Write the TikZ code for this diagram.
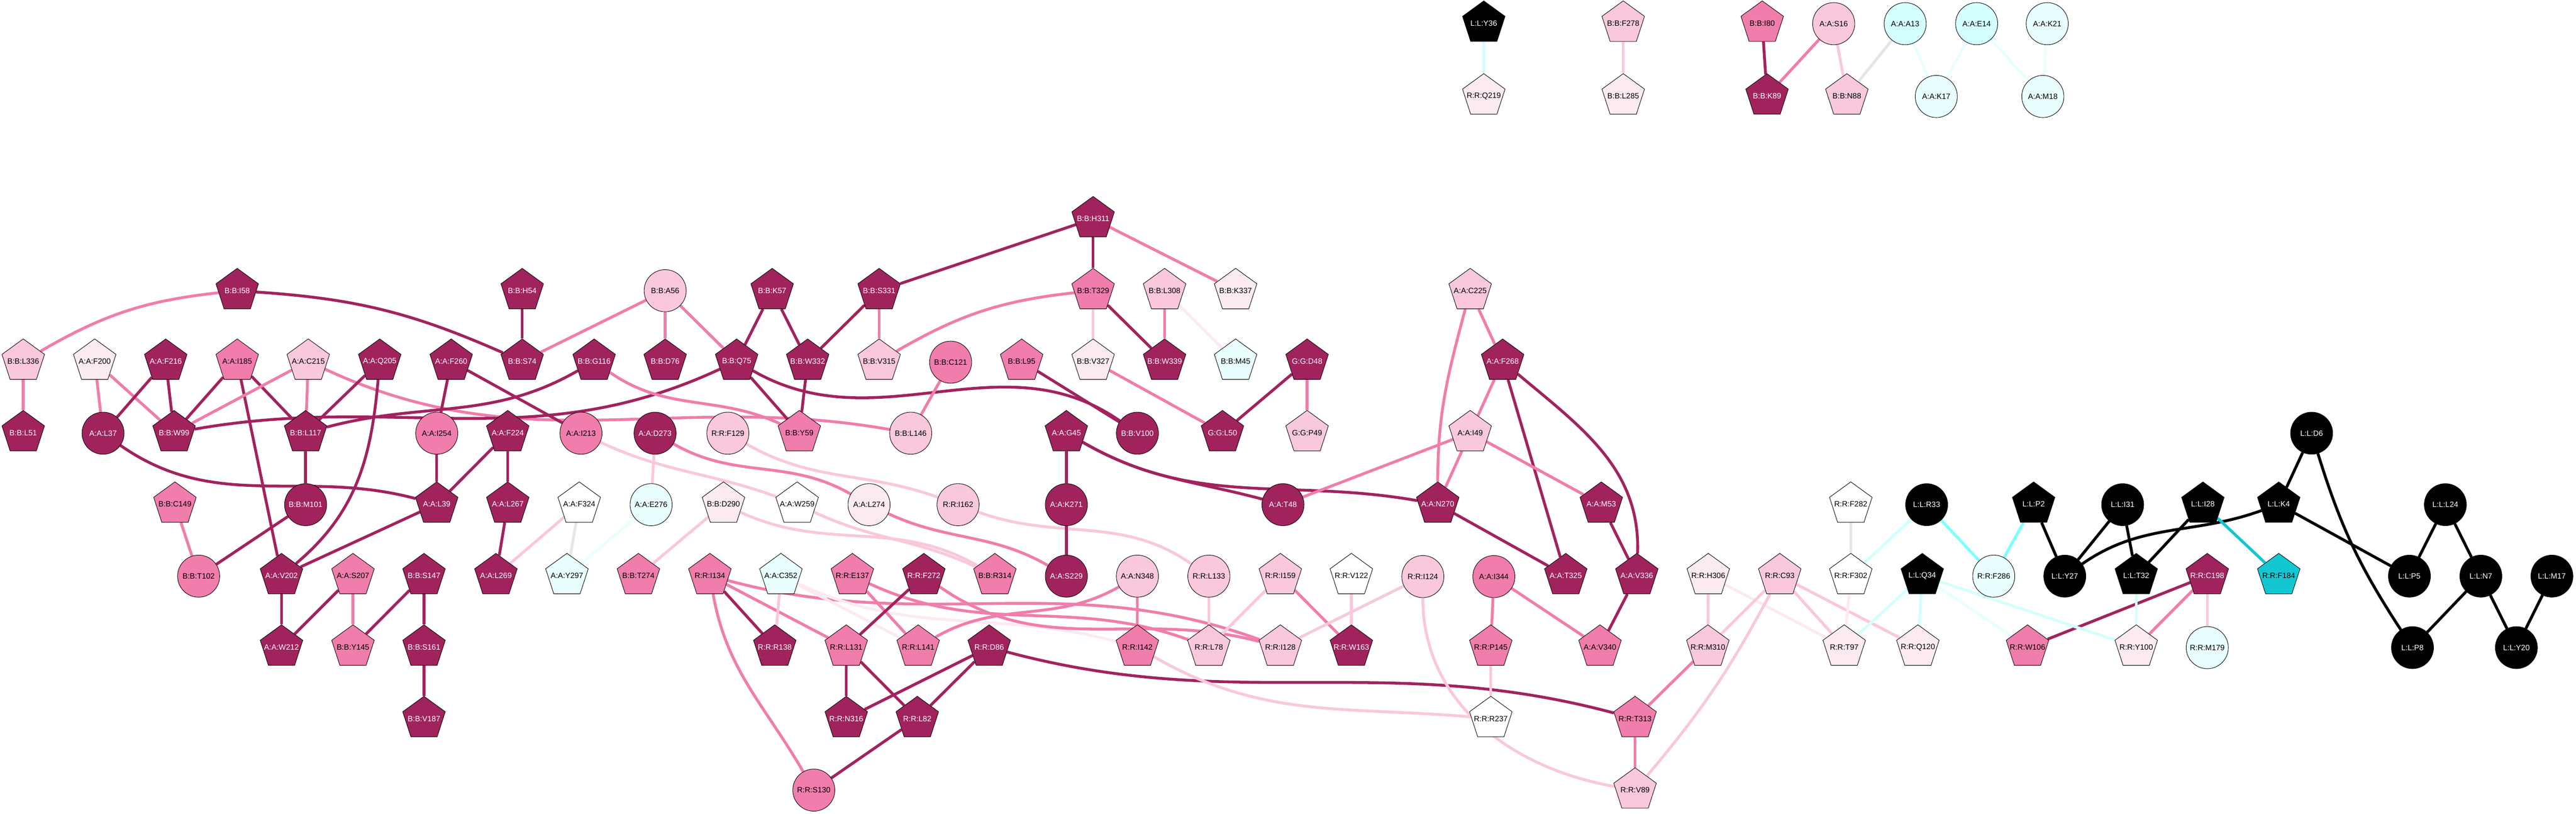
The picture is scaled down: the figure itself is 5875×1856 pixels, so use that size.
\documentclass[tikz,border=0pt]{standalone}
\usepackage{fontspec}
\setmainfont{Liberation Sans}
\usetikzlibrary{shapes.geometric,backgrounds}
\definecolor{cDk}{HTML}{A1235E}
\definecolor{cMd}{HTML}{F07DAB}
\definecolor{cLt}{HTML}{F9C8DD}
\definecolor{cVl}{HTML}{FCEAF2}
\definecolor{cCl}{HTML}{E9FEFE}
\definecolor{cCb}{HTML}{D4FFFF}
\definecolor{cCc}{HTML}{80FFFF}
\definecolor{cCy}{HTML}{12C7D2}
\definecolor{cGr}{HTML}{E6E6E6}
\begin{document}
\begin{tikzpicture}[x=0.01cm,y=-0.01cm,font=\fontsize{5}{5}\selectfont,
  slim/.style={execute at begin node={\hbox to 0pt\bgroup\hss},execute at end node={\hss\egroup}},
  pent/.style={regular polygon,regular polygon sides=5,draw=black,line width=0.3pt,minimum size=1.02cm,inner sep=0pt,slim},
  ball/.style={circle,draw=black,line width=0.3pt,minimum size=0.96cm,inner sep=0pt,slim},
  fDk/.style={fill=cDk,text=white},
  fMd/.style={fill=cMd},
  fLt/.style={fill=cLt},
  fVl/.style={fill=cVl},
  fWh/.style={fill=white},
  fCl/.style={fill=cCl},
  fCb/.style={fill=cCb},
  fCy/.style={fill=cCy},
  fBk/.style={fill=black,text=white},
  link/.style={draw=#1,line width=0.065cm}]
\useasboundingbox (0,0) rectangle (5875,1856);
% top pairs
\node[pent,fBk] (LY36) at (3384,53) {L:L:Y36};
\node[pent,fVl] (RQ219) at (3384,219) {R:R:Q219};
\node[pent,fLt] (BF278) at (3702,53) {B:B:F278};
\node[pent,fVl] (BL285) at (3702,219) {B:B:L285};
\node[pent,fMd] (BI80) at (4019,53) {B:B:I80};
\node[pent,fDk] (BK89) at (4030,219) {B:B:K89};
\node[ball,fLt] (AS16) at (4182,54) {A:A:S16};
\node[pent,fLt] (BN88) at (4212,219) {B:B:N88};
\node[ball,fCb] (AA13) at (4345,54) {A:A:A13};
\node[ball,fCb] (AE14) at (4508,54) {A:A:E14};
\node[ball,fCl] (AK21) at (4669,54) {A:A:K21};
\node[ball,fCl] (AK17) at (4416,220) {A:A:K17};
\node[ball,fCl] (AM18) at (4659,220) {A:A:M18};
% rows 499 and 663
\node[pent,fDk] (BH311) at (2493,499) {B:B:H311};
\node[pent,fDk] (BI58) at (541,663) {B:B:I58};
\node[pent,fDk] (BH54) at (1191,663) {B:B:H54};
\node[ball,fLt] (BA56) at (1517,663) {B:B:A56};
\node[pent,fDk] (BK57) at (1761,663) {B:B:K57};
\node[pent,fDk] (BS331) at (2005,663) {B:B:S331};
\node[pent,fMd] (BT329) at (2493,663) {B:B:T329};
\node[pent,fLt] (BL308) at (2656,663) {B:B:L308};
\node[pent,fVl] (BK337) at (2818,663) {B:B:K337};
\node[pent,fLt] (AC225) at (3353,663) {A:A:C225};
% row 824
\node[pent,fLt] (BL336) at (53,824) {B:B:L336};
\node[pent,fVl] (AF200) at (216,824) {A:A:F200};
\node[pent,fDk] (AF216) at (378,824) {A:A:F216};
\node[pent,fMd] (AI185) at (541,824) {A:A:I185};
\node[pent,fLt] (AC215) at (703,824) {A:A:C215};
\node[pent,fDk] (AQ205) at (866,824) {A:A:Q205};
\node[pent,fDk] (AF260) at (1029,824) {A:A:F260};
\node[pent,fDk] (BS74) at (1191,824) {B:B:S74};
\node[pent,fDk] (BG116) at (1355,824) {B:B:G116};
\node[pent,fDk] (BD76) at (1517,824) {B:B:D76};
\node[pent,fDk] (BQ75) at (1680,824) {B:B:Q75};
\node[pent,fDk] (BW332) at (1842,824) {B:B:W332};
\node[pent,fLt] (BV315) at (2005,824) {B:B:V315};
\node[ball,fMd] (BC121) at (2168,826) {B:B:C121};
\node[pent,fMd] (BL95) at (2330,824) {B:B:L95};
\node[pent,fVl] (BV327) at (2493,824) {B:B:V327};
\node[pent,fDk] (BW339) at (2656,824) {B:B:W339};
\node[pent,fCl] (BM45) at (2818,824) {B:B:M45};
\node[pent,fDk] (GD48) at (2981,824) {G:G:D48};
\node[pent,fDk] (AF268) at (3427,824) {A:A:F268};
% row 987
\node[pent,fDk] (BL51) at (53,987) {B:B:L51};
\node[ball,fDk] (AL37) at (235,988) {A:A:L37};
\node[pent,fDk] (BW99) at (397,987) {B:B:W99};
\node[pent,fDk] (BL117) at (697,987) {B:B:L117};
\node[ball,fMd] (AI254) at (996,988) {A:A:I254};
\node[pent,fDk] (AF224) at (1158,987) {A:A:F224};
\node[ball,fMd] (AI213) at (1325,988) {A:A:I213};
\node[ball,fDk] (AD273) at (1494,988) {A:A:D273};
\node[ball,fLt] (RF129) at (1660,988) {R:R:F129};
\node[pent,fMd] (BY59) at (1823,987) {B:B:Y59};
\node[ball,fLt] (BL146) at (2077,988) {B:B:L146};
\node[pent,fDk] (AG45) at (2432,987) {A:A:G45};
\node[ball,fDk] (BV100) at (2594,988) {B:B:V100};
\node[pent,fDk] (GL50) at (2788,987) {G:G:L50};
\node[pent,fLt] (GP49) at (2981,987) {G:G:P49};
\node[pent,fLt] (AI49) at (3353,987) {A:A:I49};
\node[ball,fBk] (LD6) at (5272,988) {L:L:D6};
% row 1150
\node[pent,fMd] (BC149) at (399,1150) {B:B:C149};
\node[ball,fDk] (BM101) at (697,1151) {B:B:M101};
\node[pent,fDk] (AL39) at (996,1150) {A:A:L39};
\node[pent,fDk] (AL267) at (1158,1150) {A:A:L267};
\node[pent,fWh] (AF324) at (1321,1150) {A:A:F324};
\node[ball,fCl] (AE276) at (1485,1151) {A:A:E276};
\node[pent,fVl] (BD290) at (1650,1150) {B:B:D290};
\node[pent,fWh] (AW259) at (1818,1150) {A:A:W259};
\node[ball,fVl] (AL274) at (1982,1151) {A:A:L274};
\node[ball,fLt] (RI162) at (2185,1151) {R:R:I162};
\node[ball,fDk] (AK271) at (2432,1151) {A:A:K271};
\node[ball,fDk] (AT48) at (2926,1151) {A:A:T48};
\node[pent,fDk] (AN270) at (3279,1150) {A:A:N270};
\node[pent,fDk] (AM53) at (3652,1150) {A:A:M53};
\node[pent,fWh] (RF282) at (4221,1150) {R:R:F282};
\node[ball,fBk] (LR33) at (4394,1151) {L:L:R33};
\node[pent,fBk] (LP2) at (4638,1150) {L:L:P2};
\node[ball,fBk] (LI31) at (4841,1151) {L:L:I31};
\node[pent,fBk] (LI28) at (5024,1150) {L:L:I28};
\node[pent,fBk] (LK4) at (5197,1150) {L:L:K4};
\node[ball,fBk] (LL24) at (5577,1151) {L:L:L24};
% row 1313
\node[ball,fMd] (BT102) at (453,1314) {B:B:T102};
\node[pent,fDk] (AV202) at (642,1313) {A:A:V202};
\node[pent,fMd] (AS207) at (805,1313) {A:A:S207};
\node[pent,fDk] (BS147) at (967,1313) {B:B:S147};
\node[pent,fDk] (AL269) at (1131,1313) {A:A:L269};
\node[pent,fCl] (AY297) at (1293,1313) {A:A:Y297};
\node[pent,fMd] (BT274) at (1456,1313) {B:B:T274};
\node[pent,fMd] (RI134) at (1619,1313) {R:R:I134};
\node[pent,fCl] (AC352) at (1781,1313) {A:A:C352};
\node[pent,fMd] (RE137) at (1944,1313) {R:R:E137};
\node[pent,fDk] (RF272) at (2107,1313) {R:R:F272};
\node[pent,fMd] (BR314) at (2269,1313) {B:B:R314};
\node[ball,fDk] (AS229) at (2432,1314) {A:A:S229};
\node[ball,fLt] (AN348) at (2594,1314) {A:A:N348};
\node[ball,fLt] (RL133) at (2757,1314) {R:R:L133};
\node[pent,fLt] (RI159) at (2920,1313) {R:R:I159};
\node[pent,fWh] (RV122) at (3082,1313) {R:R:V122};
\node[ball,fLt] (RI124) at (3245,1315) {R:R:I124};
\node[ball,fMd] (AI344) at (3407,1315) {A:A:I344};
\node[pent,fDk] (AT325) at (3571,1313) {A:A:T325};
\node[pent,fDk] (AV336) at (3733,1313) {A:A:V336};
\node[pent,fVl] (RH306) at (3896,1313) {R:R:H306};
\node[pent,fLt] (RC93) at (4059,1313) {R:R:C93};
\node[pent,fWh] (RF302) at (4221,1313) {R:R:F302};
\node[pent,fBk] (LQ34) at (4384,1313) {L:L:Q34};
\node[ball,fCl] (RF286) at (4547,1314) {R:R:F286};
\node[ball,fBk] (LY27) at (4709,1314) {L:L:Y27};
\node[pent,fBk] (LT32) at (4872,1313) {L:L:T32};
\node[pent,fDk] (RC198) at (5034,1313) {R:R:C198};
\node[pent,fCy] (RF184) at (5197,1313) {R:R:F184};
\node[ball,fBk] (LP5) at (5495,1314) {L:L:P5};
\node[ball,fBk] (LN7) at (5658,1314) {L:L:N7};
\node[ball,fBk] (LM17) at (5820,1314) {L:L:M17};
% row 1476
\node[pent,fDk] (AW212) at (642,1476) {A:A:W212};
\node[pent,fMd] (BY145) at (805,1476) {B:B:Y145};
\node[pent,fDk] (BS161) at (967,1476) {B:B:S161};
\node[pent,fDk] (RR138) at (1767,1476) {R:R:R138};
\node[pent,fMd] (RL131) at (1930,1476) {R:R:L131};
\node[pent,fMd] (RL141) at (2094,1476) {R:R:L141};
\node[pent,fDk] (RD86) at (2256,1476) {R:R:D86};
\node[pent,fMd] (RI142) at (2594,1476) {R:R:I142};
\node[pent,fLt] (RL78) at (2757,1476) {R:R:L78};
\node[pent,fLt] (RI128) at (2920,1476) {R:R:I128};
\node[pent,fDk] (RW163) at (3082,1476) {R:R:W163};
\node[pent,fMd] (RP145) at (3400,1476) {R:R:P145};
\node[pent,fMd] (AV340) at (3649,1476) {A:A:V340};
\node[pent,fLt] (RM310) at (3895,1476) {R:R:M310};
\node[pent,fVl] (RT97) at (4206,1476) {R:R:T97};
\node[pent,fVl] (RQ120) at (4374,1476) {R:R:Q120};
\node[pent,fMd] (RW106) at (4624,1476) {R:R:W106};
\node[pent,fVl] (RY100) at (4872,1476) {R:R:Y100};
\node[ball,fCl] (RM179) at (5034,1477) {R:R:M179};
\node[ball,fBk] (LP8) at (5502,1477) {L:L:P8};
\node[ball,fBk] (LY20) at (5739,1477) {L:L:Y20};
% rows 1639 and 1802
\node[pent,fDk] (BV187) at (967,1639) {B:B:V187};
\node[pent,fDk] (RN316) at (1930,1639) {R:R:N316};
\node[pent,fDk] (RL82) at (2092,1639) {R:R:L82};
\node[pent,fWh] (RR237) at (3400,1639) {R:R:R237};
\node[pent,fMd] (RT313) at (3729,1639) {R:R:T313};
\node[ball,fMd] (RS130) at (1856,1802) {R:R:S130};
\node[pent,fLt] (RV89) at (3729,1802) {R:R:V89};
\begin{scope}[on background layer]
% top pairs
\draw[link=cCb] (LY36) -- (RQ219);
\draw[link=cLt] (BF278) -- (BL285);
\draw[link=cDk] (BI80) -- (BK89);
\draw[link=cMd] (AS16) -- (BK89);
\draw[link=cLt] (AS16) -- (BN88);
\draw[link=cGr] (AA13) -- (BN88);
\draw[link=cCl] (AA13) -- (AK17);
\draw[link=cCl] (AE14) -- (AK17);
\draw[link=cCl] (AE14) -- (AM18);
\draw[link=cCl] (AK21) -- (AM18);
% left block
\draw[link=cMd] (BL336) to[bend left=12] (BI58);
\draw[link=cDk] (BI58) to[bend left=10] (BS74);
\draw[link=cMd] (BL336) -- (BL51);
\draw[link=cMd] (AF200) -- (AL37);
\draw[link=cMd] (AF200) -- (BW99);
\draw[link=cDk] (AF216) -- (AL37);
\draw[link=cDk] (AF216) -- (BW99);
\draw[link=cDk] (AI185) -- (BW99);
\draw[link=cDk] (AI185) -- (BL117);
\draw[link=cDk] (AI185) -- (AV202);
\draw[link=cMd] (AC215) -- (BW99);
\draw[link=cMd] (AC215) -- (BL117);
\draw[link=cMd] (AC215) to[out=-25,in=170] (BL146);
\draw[link=cDk] (AQ205) -- (BL117);
\draw[link=cDk] (AQ205) to[out=-95,in=40] (AV202);
\draw[link=cDk] (BW99) to[out=10,in=205] (BQ75);
\draw[link=cDk] (BL117) to[out=15,in=210] (BG116);
\draw[link=cDk] (AL37) to[out=-35,in=165] (AL39);
\draw[link=cDk] (BL117) -- (BM101);
\draw[link=cDk] (BM101) -- (BT102);
\draw[link=cMd] (BC149) -- (BT102);
\draw[link=cDk] (AV202) -- (AW212);
\draw[link=cDk] (AL39) -- (AV202);
\draw[link=cDk] (AS207) -- (AW212);
\draw[link=cMd] (AS207) -- (BY145);
\draw[link=cDk] (BS147) -- (BY145);
\draw[link=cDk] (BS147) -- (BS161);
\draw[link=cDk] (BS161) -- (BV187);
\draw[link=cDk] (AI254) -- (AL39);
\draw[link=cDk] (AF260) -- (AI254);
\draw[link=cDk] (AF260) -- (AI213);
\draw[link=cDk] (BH54) -- (BS74);
\draw[link=cMd] (BA56) -- (BS74);
\draw[link=cMd] (BA56) -- (BD76);
\draw[link=cMd] (BA56) -- (BQ75);
\draw[link=cDk] (BK57) -- (BQ75);
\draw[link=cDk] (BK57) -- (BW332);
\draw[link=cDk] (BS331) -- (BW332);
\draw[link=cDk] (BW332) -- (BY59);
\draw[link=cDk] (BQ75) -- (BY59);
\draw[link=cDk] (BQ75) to[out=-30,in=145] (BV100);
\draw[link=cMd] (BG116) to[out=-35,in=155] (BY59);
\draw[link=cDk] (AF224) -- (AL267);
\draw[link=cDk] (AF224) -- (AL39);
\draw[link=cDk] (AL267) -- (AL269);
\draw[link=cLt] (AF324) -- (AL269);
\draw[link=cGr] (AF324) -- (AY297);
\draw[link=cCl] (AE276) -- (AY297);
\draw[link=cLt] (AD273) -- (AE276);
\draw[link=cLt] (BD290) -- (BT274);
\draw[link=cLt] (AI213) to[out=-25,in=160] (AW259);
\draw[link=cMd] (AD273) to[out=-30,in=150] (AL274);
\draw[link=cLt] (RF129) to[out=-30,in=160] (RI162);
\draw[link=cLt] (BD290) to[out=-25,in=150] (BR314);
\draw[link=cLt] (AW259) to[out=-25,in=155] (BR314);
\draw[link=cMd] (AL274) to[out=-25,in=150] (AS229);
\draw[link=cLt] (RI162) to[out=-20,in=145] (RL133);
% R block
\draw[link=cDk] (RI134) -- (RR138);
\draw[link=cMd] (RI134) -- (RL131);
\draw[link=cMd] (RI134) to[out=-80,in=120] (RS130);
\draw[link=cMd] (RI134) to[out=-15,in=160] (RI128);
\draw[link=cLt] (AC352) -- (RR138);
\draw[link=cVl] (AC352) -- (RL141);
\draw[link=cVl] (AC352) to[out=-25,in=165] (RI142);
\draw[link=cMd] (RE137) -- (RL141);
\draw[link=cMd] (RE137) to[out=-25,in=160] (RL78);
\draw[link=cDk] (RF272) -- (RL131);
\draw[link=cMd] (RF272) to[out=-35,in=165] (RI128);
\draw[link=cMd] (RL141) to[out=30,in=210] (AN348);
\draw[link=cDk] (RL131) -- (RN316);
\draw[link=cDk] (RL131) -- (RL82);
\draw[link=cDk] (RN316) -- (RD86);
\draw[link=cDk] (RS130) -- (RL82);
\draw[link=cDk] (RD86) -- (RL82);
\draw[link=cDk] (RD86) to[out=-15,in=165] (RT313);
\draw[link=cMd] (AN348) -- (RI142);
\draw[link=cLt] (RL133) -- (RL78);
\draw[link=cLt] (RI159) -- (RL78);
\draw[link=cMd] (RI159) -- (RW163);
\draw[link=cLt] (RI124) -- (RI128);
\draw[link=cLt] (RI124) to[out=-90,in=170] (RV89);
\draw[link=cDk] (AK271) -- (AS229);
\draw[link=cDk] (AG45) -- (AK271);
\draw[link=cDk] (AG45) to[out=-30,in=165] (AT48);
\draw[link=cDk] (AG45) to[out=-30,in=170] (AN270);
\draw[link=cMd] (AT48) -- (AI49);
\draw[link=cLt] (RI142) to[out=-30,in=175] (RR237);
\draw[link=cLt] (RV122) -- (RW163);
% B block right
\draw[link=cDk] (BH311) -- (BS331);
\draw[link=cDk] (BH311) -- (BT329);
\draw[link=cMd] (BH311) -- (BK337);
\draw[link=cMd] (BS331) -- (BV315);
\draw[link=cMd] (BT329) to[bend right=12] (BV315);
\draw[link=cLt] (BT329) -- (BV327);
\draw[link=cDk] (BT329) -- (BW339);
\draw[link=cMd] (BL308) -- (BW339);
\draw[link=cVl] (BL308) -- (BM45);
\draw[link=cMd] (BC121) -- (BL146);
\draw[link=cDk] (BL95) -- (BV100);
\draw[link=cMd] (BV327) -- (GL50);
\draw[link=cDk] (GD48) -- (GL50);
\draw[link=cMd] (GD48) -- (GP49);
% A block right
\draw[link=cMd] (AC225) -- (AF268);
\draw[link=cMd] (AC225) to[out=-105,in=90] (AN270);
\draw[link=cMd] (AF268) -- (AI49);
\draw[link=cDk] (AF268) -- (AT325);
\draw[link=cDk] (AF268) to[out=-40,in=88] (AV336);
\draw[link=cMd] (AI49) -- (AN270);
\draw[link=cMd] (AI49) -- (AM53);
\draw[link=cDk] (AN270) -- (AT325);
\draw[link=cDk] (AM53) -- (AV336);
\draw[link=cMd] (AI344) -- (RP145);
\draw[link=cMd] (AI344) -- (AV340);
\draw[link=cDk] (AV336) -- (AV340);
\draw[link=cLt] (RP145) -- (RR237);
\draw[link=cLt] (RH306) -- (RM310);
\draw[link=cMd] (RM310) -- (RT313);
\draw[link=cMd] (RT313) -- (RV89);
\draw[link=cVl] (RH306) -- (RT97);
\draw[link=cLt] (RC93) -- (RM310);
\draw[link=cLt] (RC93) to[bend left=6] (RV89);
\draw[link=cLt] (RC93) -- (RT97);
\draw[link=cLt] (RC93) -- (RQ120);
\draw[link=cGr] (RF282) -- (RF302);
\draw[link=cVl] (RF302) -- (RT97);
% L block
\draw[link=cCb] (LR33) -- (RF302);
\draw[link=cCc] (LR33) -- (RF286);
\draw[link=cCc] (LP2) -- (RF286);
\draw[link=black] (LP2) -- (LY27);
\draw[link=black] (LI31) -- (LY27);
\draw[link=black] (LI31) -- (LT32);
\draw[link=black] (LI28) -- (LT32);
\draw[link=black] (LY27) to[out=35,in=200] (LK4);
\draw[link=black] (LK4) -- (LD6);
\draw[link=black] (LK4) -- (LP5);
\draw[link=black] (LD6) to[bend right=8] (LP8);
\draw[link=black] (LL24) -- (LP5);
\draw[link=black] (LL24) -- (LN7);
\draw[link=black] (LN7) -- (LP8);
\draw[link=black] (LN7) -- (LY20);
\draw[link=black] (LM17) -- (LY20);
\draw[link=cCy] (LI28) -- (RF184);
\draw[link=cDk] (RC198) -- (RW106);
\draw[link=cMd] (RC198) -- (RY100);
\draw[link=cLt] (RC198) -- (RM179);
\draw[link=cCb] (LT32) -- (RY100);
\draw[link=cCb] (LQ34) -- (RT97);
\draw[link=cCb] (LQ34) -- (RQ120);
\draw[link=cCl] (LQ34) -- (RW106);
\draw[link=cCb] (LQ34) -- (RY100);
\end{scope}
\end{tikzpicture}
\end{document}
